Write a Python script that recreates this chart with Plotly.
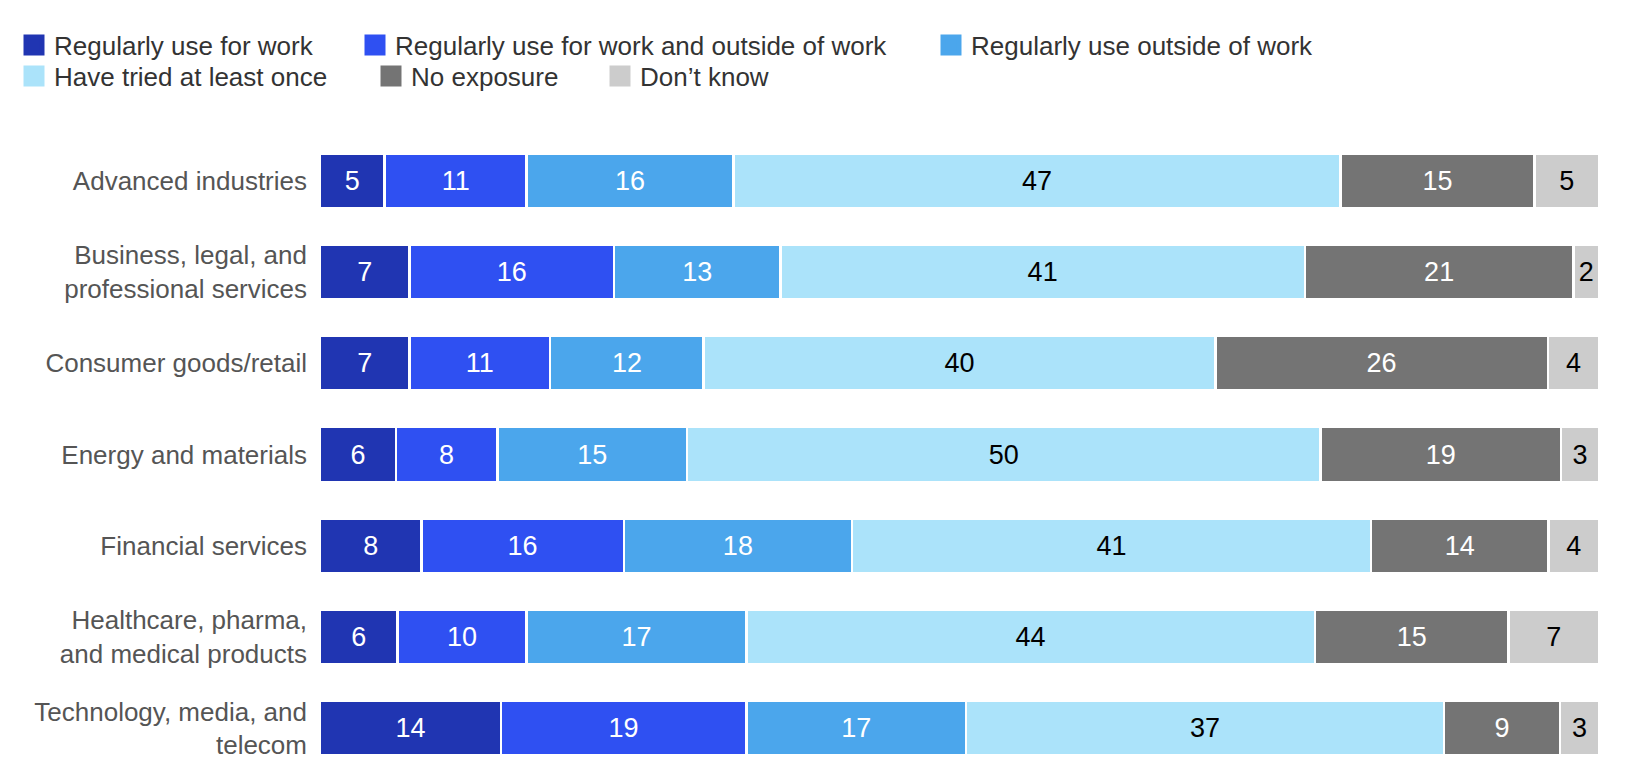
import plotly.graph_objects as go

categories = ["Advanced industries",
              "Business, legal, and<br>professional services",
              "Consumer goods/retail",
              "Energy and materials",
              "Financial services",
              "Healthcare, pharma,<br>and medical products",
              "Technology, media, and<br>telecom"]

series_names = ["Regularly use for work",
                "Regularly use for work and outside of work",
                "Regularly use outside of work",
                "Have tried at least once",
                "No exposure",
                "Don\u2019t know"]

work_only = [5, 7, 7, 6, 8, 6, 14]
work_and_outside = [11, 16, 11, 8, 16, 10, 19]
outside_only = [16, 13, 12, 15, 18, 17, 17]
tried_once = [47, 41, 40, 50, 41, 44, 37]
no_exposure = [15, 21, 26, 19, 14, 15, 9]
dont_know = [5, 2, 4, 3, 4, 7, 3]

values = [work_only, work_and_outside, outside_only, tried_once, no_exposure, dont_know]
colors = ["#2035b2", "#2f50f2", "#4ba6ec", "#abe3fa", "#747474", "#cccccc"]
text_colors = ["white", "white", "white", "black", "white", "black"]

# legend placement (page pixels), one small legend per series
legend_x = [26, 367, 943, 26, 383, 612]
legend_y = [47, 47, 47, 78, 78, 78]

# the page body has an 8px margin, so the figure is a bit smaller than the window
W, H = 1622, 776
FONT = "Liberation Sans"

fig = go.Figure()

for i, (name, vals) in enumerate(zip(series_names, values)):
    fig.add_trace(go.Bar(
        y=categories, x=vals, name=name, orientation="h",
        marker=dict(color=colors[i], line=dict(color="white", width=2.5)),
        text=[str(v) for v in vals], textposition="inside",
        insidetextanchor="middle", textangle=0,
        textfont=dict(color=text_colors[i], size=27, family=FONT),
        showlegend=False, hoverinfo="x+y+name"))

# legend entries with bigger square swatches, on a hidden helper axis
for i, name in enumerate(series_names):
    lg = "legend" if i == 0 else "legend%d" % (i + 1)
    fig.add_trace(go.Scatter(
        x=[0], y=[0], mode="markers", name=name,
        xaxis="x2", yaxis="y2", hoverinfo="skip",
        marker=dict(symbol="square", size=16, color=colors[i],
                    line=dict(color=colors[i], width=5)),
        legend=lg, showlegend=True))

layout_legends = {}
for i in range(6):
    key = "legend" if i == 0 else "legend%d" % (i + 1)
    layout_legends[key] = dict(
        orientation="h",
        xref="container", yref="container",
        x=(legend_x[i] - 20) / W, y=1 - (legend_y[i] - 10) / H,
        xanchor="left", yanchor="middle",
        bgcolor="rgba(0,0,0,0)", borderwidth=0,
        font=dict(family=FONT, size=26, color="#333333"),
        itemclick=False, itemdoubleclick=False)

fig.update_layout(**layout_legends)

fig.update_layout(
    barmode="stack", barnorm="percent", bargap=0.4,
    width=W, height=H,
    margin=dict(l=312, r=31, t=127, b=10, autoexpand=False),
    plot_bgcolor="white", paper_bgcolor="white",
    uniformtext=dict(minsize=27, mode="show"),
    font=dict(family=FONT),
    xaxis=dict(range=[0, 100], visible=False, fixedrange=True),
    yaxis=dict(autorange="reversed", showgrid=False, zeroline=False,
               showline=False, ticks="", ticklabelstandoff=12,
               tickfont=dict(family=FONT, size=26, color="#555555"),
               fixedrange=True),
    xaxis2=dict(overlaying="x", range=[10, 11], visible=False, fixedrange=True),
    yaxis2=dict(overlaying="y", range=[10, 11], visible=False, fixedrange=True),
)

fig.write_html("out.html")
